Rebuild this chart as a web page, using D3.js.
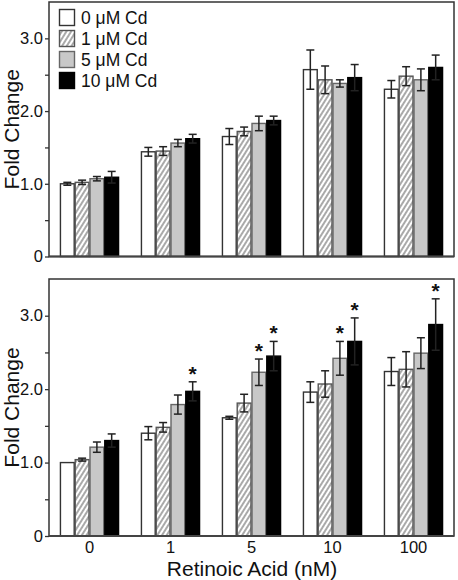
<!DOCTYPE html>
<html><head><meta charset="utf-8">
<script src="https://cdn.jsdelivr.net/npm/d3@7"></script>
<style>body{margin:0;background:#fff}svg{display:block}text{font-family:"Liberation Sans",Arial,sans-serif;fill:#111}</style>
</head><body><svg id="c" width="458" height="580"></svg>
<script>
const categories = ["0","1","5","10","100"];
const series = ["0 \u03BCM Cd","1 \u03BCM Cd","5 \u03BCM Cd","10 \u03BCM Cd"];
const yTicks = [0,1,2,3];
const yMinor = [0.5,1.5,2.5];
// top panel
const topValues = [
  [1.00,1.44,1.65,2.57,2.30],
  [1.02,1.45,1.72,2.43,2.48],
  [1.07,1.56,1.83,2.38,2.43],
  [1.09,1.62,1.87,2.46,2.60]];
const topErrors = [
  [0.02,0.06,0.11,0.27,0.12],
  [0.03,0.06,0.06,0.19,0.13],
  [0.03,0.05,0.10,0.05,0.15],
  [0.08,0.06,0.06,0.18,0.17]];
// bottom panel
const botValues = [
  [1.00,1.40,1.61,1.96,2.24],
  [1.04,1.48,1.81,2.07,2.27],
  [1.21,1.79,2.23,2.42,2.49],
  [1.30,1.97,2.45,2.65,2.88]];
const botErrors = [
  [0.00,0.09,0.02,0.14,0.19],
  [0.02,0.065,0.12,0.18,0.24],
  [0.07,0.13,0.18,0.23,0.21],
  [0.09,0.13,0.20,0.32,0.35]];
const botStars = [
  [false,false,false,false,false],
  [false,false,false,false,false],
  [false,false,true,true,false],
  [false,true,true,true,true]];

const svg = d3.select("#c");
const defs = svg.append("defs");
const pat = defs.append("pattern").attr("id","hatch").attr("patternUnits","userSpaceOnUse")
  .attr("width",4).attr("height",4).attr("patternTransform","rotate(32)");
pat.append("rect").attr("width",4).attr("height",4).attr("fill","#fff");
pat.append("line").attr("x1",1).attr("y1",0).attr("x2",1).attr("y2",4).attr("stroke","#858585").attr("stroke-width",1.4);

const fills = ["#fff","url(#hatch)","#c8c8c8","#000"];
const strokes = ["#333","#555","#666","#000"];
const FONT = '"Liberation Sans",Arial,sans-serif';

const x0 = d3.scaleBand().domain(categories).range([49,454]).paddingInner(0.27).paddingOuter(0.135);
const x1 = d3.scaleBand().domain(d3.range(series.length)).range([0,x0.bandwidth()]);

function panel(top, bottom, values, errors, stars, showX){
  const y = d3.scaleLinear().domain([0,3.5]).range([bottom, top]);
  const g = svg.append("g");
  series.forEach((s,si)=>{
    categories.forEach((c,ci)=>{
      const v = values[si][ci], e = errors[si][ci];
      const bx = x0(c)+x1(si), bw = x1.bandwidth();
      g.append("rect").attr("x",bx+0.5).attr("y",y(v)).attr("width",bw-1).attr("height",y(0)-y(v))
        .attr("fill",fills[si]).attr("stroke",strokes[si]).attr("stroke-width",1.4);
      const cx = bx+bw/2;
      if(e>0){
        const eg = g.append("g").attr("stroke","#222").attr("stroke-width",1.5);
        eg.append("line").attr("x1",cx).attr("x2",cx).attr("y1",y(v+e)).attr("y2",y(v-e));
        eg.append("line").attr("x1",cx-4).attr("x2",cx+4).attr("y1",y(v+e)).attr("y2",y(v+e));
        eg.append("line").attr("x1",cx-4).attr("x2",cx+4).attr("y1",y(v-e)).attr("y2",y(v-e));
      }
      if(stars && stars[si][ci]){
        g.append("text").attr("x",cx).attr("y",y(v+e)-1).attr("text-anchor","middle")
          .attr("font-size",21).attr("font-weight","bold").text("*");
      }
    });
  });
  g.append("rect").attr("x",49).attr("y",top).attr("width",405).attr("height",bottom-top)
    .attr("fill","none").attr("stroke","#333").attr("stroke-width",1.5);
  g.append("line").attr("x1",49).attr("x2",454).attr("y1",bottom).attr("y2",bottom).attr("stroke","#444").attr("stroke-width",2);
  const ax = d3.axisLeft(y).tickValues(yTicks).tickSize(4).tickPadding(2)
    .tickFormat(d=> d===0?"0":d3.format(".1f")(d));
  const ag = g.append("g").attr("transform","translate(49,0)").call(ax);
  ag.select(".domain").remove();
  ag.selectAll("line").attr("stroke","#333").attr("stroke-width",1.3);
  ag.selectAll("text").attr("font-size",16.5).attr("fill","#111").attr("font-family",FONT);
  const mg = g.append("g").attr("transform","translate(49,0)").call(d3.axisLeft(y).tickValues(yMinor).tickSize(4).tickFormat(""));
  mg.select(".domain").remove();
  mg.selectAll("line").attr("stroke","#333").attr("stroke-width",1.3);
  g.append("text").attr("transform",`translate(19,${(top+bottom)/2}) rotate(-90)`).attr("text-anchor","middle")
    .attr("font-size",21).text("Fold Change");
  if(showX){
    const xa = d3.axisBottom(x0).tickSize(0).tickPadding(5);
    const xg = g.append("g").attr("transform",`translate(0,${bottom})`).call(xa);
    xg.select(".domain").remove();
    xg.selectAll("text").attr("font-size",16.5).attr("fill","#111").attr("font-family",FONT);
    g.append("text").attr("x",252).attr("y",575.5).attr("text-anchor","middle").attr("font-size",21).text("Retinoic Acid (nM)");
  }
}
panel(2,256.5,topValues,topErrors,null,false);
panel(279,536,botValues,botErrors,botStars,true);

const lg = svg.append("g");
series.forEach((s,i)=>{
  const yy = 9.5 + i*21;
  lg.append("rect").attr("x",59.5).attr("y",yy).attr("width",15).attr("height",16)
    .attr("fill",fills[i]).attr("stroke",strokes[i]).attr("stroke-width",1.4);
  lg.append("text").attr("x",81).attr("y",yy+14).attr("font-size",17.5).text(s);
});
</script></body></html>
